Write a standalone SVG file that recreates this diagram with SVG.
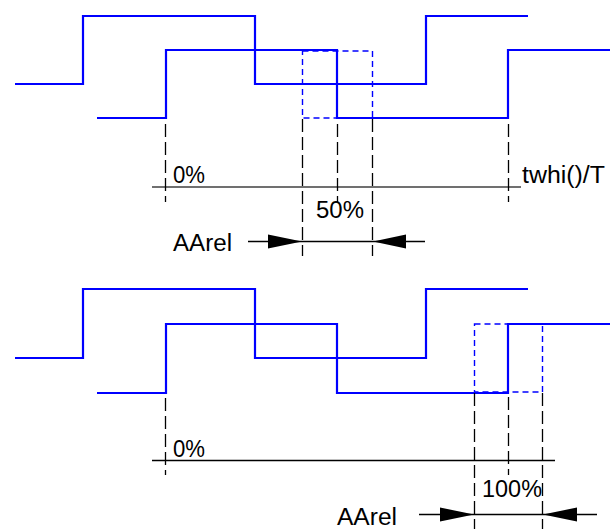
<svg xmlns="http://www.w3.org/2000/svg" width="613" height="529" viewBox="0 0 613 529">
<style>
.sig{fill:none;stroke:#0000ff;stroke-width:2.2}
.box{fill:none;stroke:#0000ff;stroke-width:1.4;stroke-dasharray:6,4}
.dash{fill:none;stroke:#000;stroke-width:1.3;stroke-dasharray:13,5}
.dim{fill:none;stroke:#000;stroke-width:1.3}
.axis{fill:none;stroke:#000;stroke-width:1.3}
.axisg{fill:none;stroke:#707070;stroke-width:1.8}
.ah{fill:#000;stroke:none}
text{font-family:"Liberation Sans",Arial,sans-serif;font-size:23px;fill:#000}
</style>
<rect width="613" height="529" fill="#fff"/>
<g id="top">
  <g id="top-signal-1"><polyline class="sig" points="15,84 83,84 83,16 255,16 255,84 426,84 426,16 528,16"/></g>
  <g id="top-signal-2"><polyline class="sig" points="97,118 166,118 166,50 337,50 337,118 508,118 508,50 610,50"/></g>
  <g id="top-window"><rect class="box" x="302.5" y="51" width="70" height="67"/></g>
  <g id="top-axis">
    <line class="axisg" x1="152" y1="187" x2="521" y2="187"/>
    <text x="173" y="183" textLength="32" lengthAdjust="spacingAndGlyphs">0%</text>
    <text x="522" y="183" textLength="83" lengthAdjust="spacingAndGlyphs">twhi()/T</text>
    <text x="316" y="218" textLength="48" lengthAdjust="spacingAndGlyphs">50%</text>
    <text x="173" y="251" textLength="59" lengthAdjust="spacingAndGlyphs">AArel</text>
  </g>
  <g id="top-connectors">
    <line class="dash" x1="165.5" y1="124" x2="165.5" y2="202"/>
    <line class="dash" x1="302.5" y1="119" x2="302.5" y2="256"/>
    <line class="dash" x1="337.5" y1="124" x2="337.5" y2="202"/>
    <line class="dash" x1="372.5" y1="119" x2="372.5" y2="256"/>
    <line class="dash" x1="508.5" y1="124" x2="508.5" y2="202"/>
    <line class="dim" x1="248" y1="241.5" x2="425" y2="241.5"/>
    <polygon class="ah" points="302,241.5 268,234.5 268,248.5"/>
    <polygon class="ah" points="373,241.5 406,234.5 406,248.5"/>
  </g>
</g>
<g id="bottom">
  <g id="bottom-signal-1"><polyline class="sig" points="15,358 83,358 83,289 255,289 255,358 426,358 426,289 528,289"/></g>
  <g id="bottom-signal-2"><polyline class="sig" points="97,393 166,393 166,324 337,324 337,393 508,393 508,324 610,324"/></g>
  <g id="bottom-window"><rect class="box" x="474.5" y="324" width="68" height="68"/></g>
  <g id="bottom-axis">
    <line class="axis" x1="152" y1="460.5" x2="555" y2="460.5"/>
    <text x="173" y="457" textLength="32" lengthAdjust="spacingAndGlyphs">0%</text>
    <text x="482" y="497" textLength="60" lengthAdjust="spacingAndGlyphs">100%</text>
    <text x="337" y="525" textLength="60" lengthAdjust="spacingAndGlyphs">AArel</text>
  </g>
  <g id="bottom-connectors">
    <line class="dash" x1="165.5" y1="398" x2="165.5" y2="475"/>
    <line class="dash" x1="474.5" y1="393" x2="474.5" y2="529"/>
    <line class="dash" x1="508.5" y1="397" x2="508.5" y2="475"/>
    <line class="dash" x1="542.5" y1="393" x2="542.5" y2="529"/>
    <line class="dim" x1="419" y1="514.5" x2="597" y2="514.5"/>
    <polygon class="ah" points="474,514.5 440,507.5 440,521.5"/>
    <polygon class="ah" points="543,514.5 577,507.5 577,521.5"/>
  </g>
</g>
</svg>
